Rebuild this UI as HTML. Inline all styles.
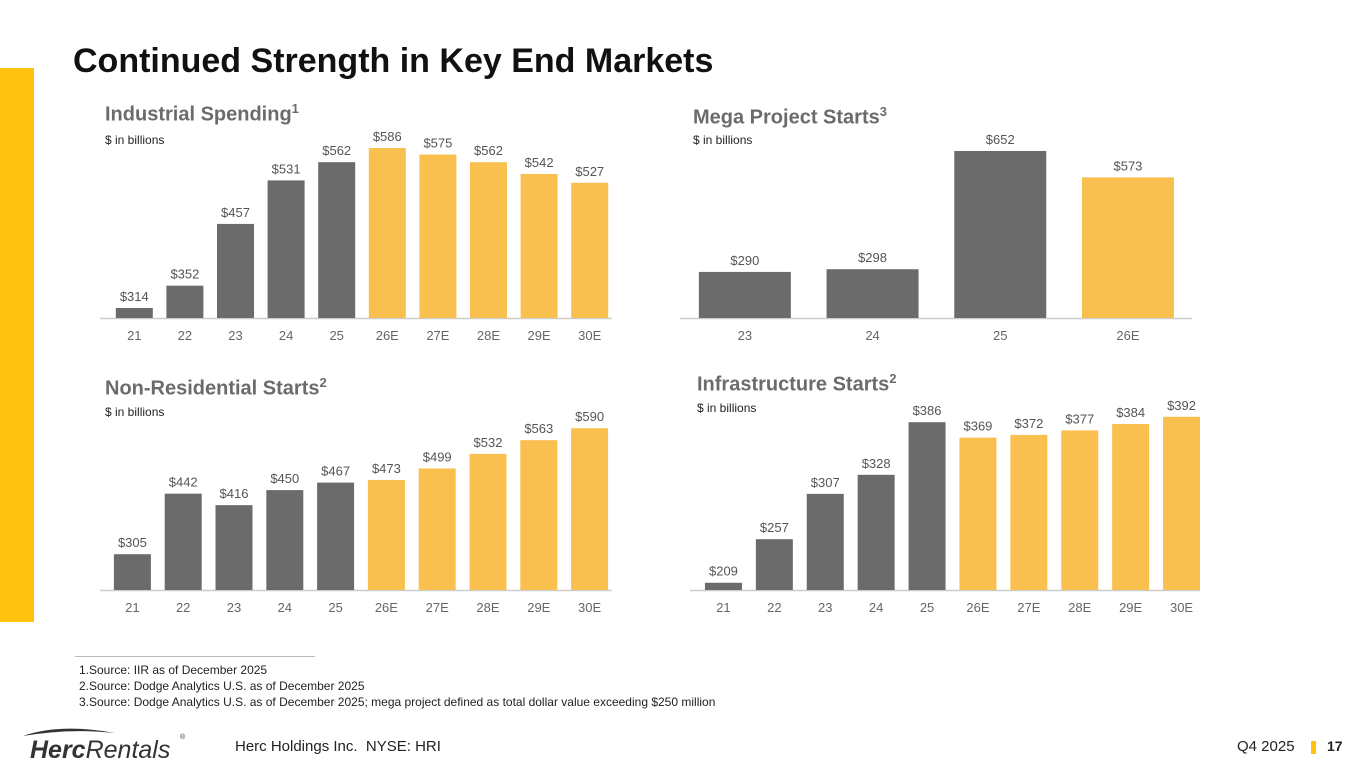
<!DOCTYPE html>
<html><head><meta charset="utf-8"><style>
body{margin:0;width:1365px;height:768px;background:#fff;font-family:"Liberation Sans",Arial,sans-serif;position:relative;overflow:hidden}
.abs{position:absolute}
.ct{font-weight:bold;color:#6b6b6b;font-size:20px}
.ct sup{font-size:13px}
.sub{font-size:12px;color:#222}
.fn{font-size:12px;color:#222;line-height:16px}
</style></head><body>
<div class="abs" style="left:0;top:68px;width:34px;height:554px;background:#FFC20E"></div>
<div class="abs" style="left:73px;top:42px;font-size:34px;font-weight:bold;color:#111">Continued Strength in Key End Markets</div>
<div class="abs ct" style="left:105px;top:101px">Industrial Spending<sup>1</sup></div>
<div class="abs sub" style="left:105px;top:133px">$ in billions</div>
<div class="abs ct" style="left:693px;top:104px">Mega Project Starts<sup>3</sup></div>
<div class="abs sub" style="left:693px;top:133px">$ in billions</div>
<div class="abs ct" style="left:105px;top:375px">Non-Residential Starts<sup>2</sup></div>
<div class="abs sub" style="left:105px;top:405px">$ in billions</div>
<div class="abs ct" style="left:697px;top:371px">Infrastructure Starts<sup>2</sup></div>
<div class="abs sub" style="left:697px;top:401px">$ in billions</div>
<svg class="abs" id="charts" style="left:0;top:0" width="1365" height="768"></svg>
<div class="abs" style="left:75px;top:656px;width:240px;height:1px;background:#bbb"></div>
<div class="abs fn" style="left:79px;top:662px">1.Source: IIR as of December 2025<br>2.Source: Dodge Analytics U.S. as of December 2025<br>3.Source: Dodge Analytics U.S. as of December 2025; mega project defined as total dollar value exceeding $250 million</div>
<svg class="abs" style="left:20px;top:725px" width="170" height="40">
<path d="M3 11 Q40 -2 95 8 Q50 3 3 11Z" fill="#333"/>
<text x="10" y="33" font-family="Liberation Sans" font-size="25" font-weight="bold" font-style="italic" fill="#333">Herc<tspan font-weight="normal">Rentals</tspan></text>
<text x="160" y="14" font-size="7" fill="#333">®</text></svg>
<div class="abs" style="left:235px;top:738px;font-size:15px;color:#222">Herc Holdings Inc.&nbsp; NYSE: HRI</div>
<div class="abs" style="left:1237px;top:738px;font-size:15px;color:#222">Q4 2025</div>
<div class="abs" style="left:1311px;top:741px;width:5px;height:13px;background:#FFC20E"></div>
<div class="abs" style="left:1327px;top:738px;font-size:14px;font-weight:bold;color:#222">17</div>
<script>
const indCats=["21","22","23","24","25","26E","27E","28E","29E","30E"];
const indVals=[314,352,457,531,562,586,575,562,542,527];
const megaCats=["23","24","25","26E"];
const megaVals=[290,298,652,573];
const nonCats=["21","22","23","24","25","26E","27E","28E","29E","30E"];
const nonVals=[305,442,416,450,467,473,499,532,563,590];
const infCats=["21","22","23","24","25","26E","27E","28E","29E","30E"];
const infVals=[209,257,307,328,386,369,372,377,384,392];
const charts=[
 {name:"industrial",cats:indCats,vals:indVals,x0:109,step:50.6,bw:37,base:318,vmin:297,k:0.588,nDark:5,ax0:100,ax1:612},
 {name:"mega",cats:megaCats,vals:megaVals,x0:681,step:127.7,bw:92,base:318,vmin:152,k:0.334,nDark:3,ax0:680,ax1:1192},
 {name:"nonres",cats:nonCats,vals:nonVals,x0:107,step:50.8,bw:37,base:590,vmin:224,k:0.442,nDark:5,ax0:100,ax1:612},
 {name:"infra",cats:infCats,vals:infVals,x0:698,step:50.9,bw:37,base:590,vmin:201,k:0.907,nDark:5,ax0:690,ax1:1200}
];
const svg=document.getElementById('charts');
const NS="http://www.w3.org/2000/svg";
function mk(t,a){const e=document.createElementNS(NS,t);for(const k in a)e.setAttribute(k,a[k]);svg.appendChild(e);return e;}
charts.forEach(c=>{
 const ax=mk('line',{x1:c.ax0,x2:c.ax1,y1:c.base+0.5,y2:c.base+0.5,stroke:'#ccc','stroke-width':1.5});
 
 
 c.vals.forEach((v,i)=>{
  const cx=c.x0+c.step*i+c.step/2;
  const y=c.base-(v-c.vmin)*c.k;
  const r=mk('rect',{x:cx-c.bw/2,y:y,width:c.bw,height:c.base-y,fill:i<c.nDark?'#6b6b6b':'#F9C04F'});
  
  
  const t=mk('text',{x:cx,y:y-7,'text-anchor':'middle','font-size':13,fill:'#555','font-family':'Liberation Sans'});
  t.textContent='$'+v;
  
  
  const l=mk('text',{x:cx,y:c.base+22,'text-anchor':'middle','font-size':13,fill:'#666','font-family':'Liberation Sans'});
  l.textContent=c.cats[i];
  
  
 });
});
</script>
</body></html>
